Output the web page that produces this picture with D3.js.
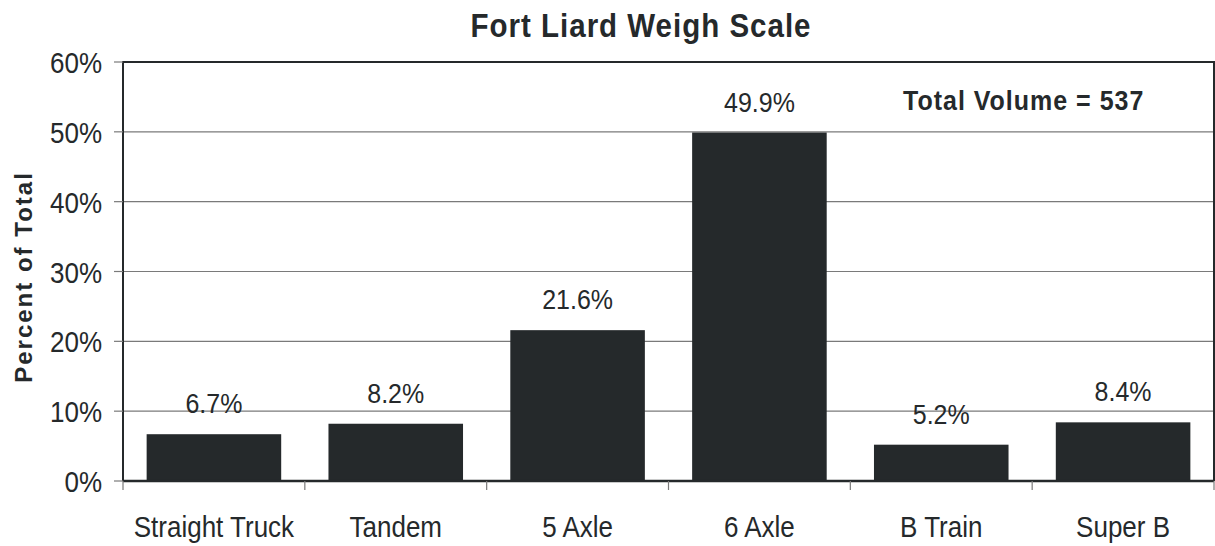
<!DOCTYPE html>
<html>
<head>
<meta charset="utf-8">
<script src="https://cdn.jsdelivr.net/npm/d3@7"></script>
<style>
  html, body { margin: 0; padding: 0; background: #fff; }
  text { font-family: "Liberation Sans", Arial, sans-serif; fill: #25292b; }
</style>
</head>
<body>
<script>
// chart data
const categories = ["Straight Truck", "Tandem", "5 Axle", "6 Axle", "B Train", "Super B"];
const percents = [6.7, 8.2, 21.6, 49.9, 5.2, 8.4];
const yTicks = [0, 10, 20, 30, 40, 50, 60];
const totalVolume = 537;

const WIDTH = 1215, HEIGHT = 546;
const plotLeft = 123, plotRight = 1214, plotTop = 62, plotBottom = 481;
const STRETCH = 1.1; // the original text is drawn slightly taller than wide

const svg = d3.select("body").append("svg")
    .attr("width", WIDTH)
    .attr("height", HEIGHT);

// put text at (x, y) with a small vertical stretch
const place = (xf, yf) => function (d, i) {
    const xx = typeof xf === "function" ? xf(d, i) : xf;
    const yy = typeof yf === "function" ? yf(d, i) : yf;
    return `translate(${xx},${yy}) scale(1,${STRETCH})`;
};

const x = d3.scaleBand()
    .domain(categories)
    .range([plotLeft, plotRight])
    .paddingInner(0.26)
    .paddingOuter(0.13);

const y = d3.scaleLinear()
    .domain([0, 60])
    .range([plotBottom, plotTop]);

// gridlines
svg.append("g")
    .selectAll("line")
    .data(yTicks.filter(d => d > 0 && d < 60))
    .enter().append("line")
    .attr("x1", plotLeft).attr("x2", plotRight)
    .attr("y1", d => y(d)).attr("y2", d => y(d))
    .attr("stroke", "#7a7a7a")
    .attr("stroke-width", 1.2);

// plot frame (top, left, right)
svg.append("path")
    .attr("d", `M${plotLeft},${plotBottom} V${plotTop} H${plotRight} V${plotBottom}`)
    .attr("fill", "none")
    .attr("stroke", "#25292b")
    .attr("stroke-width", 2);

// y tick marks + labels
const yAxis = svg.append("g");
yAxis.selectAll("line")
    .data(yTicks)
    .enter().append("line")
    .attr("x1", plotLeft - 9).attr("x2", plotLeft)
    .attr("y1", d => y(d)).attr("y2", d => y(d))
    .attr("stroke", "#7a7a7a")
    .attr("stroke-width", 1.2);
yAxis.selectAll("text")
    .data(yTicks)
    .enter().append("text")
    .attr("transform", place(102, d => y(d) + 11))
    .attr("text-anchor", "end")
    .attr("font-size", 26)
    .text(d => d + "%");

// bars
svg.append("g")
    .selectAll("rect")
    .data(percents)
    .enter().append("rect")
    .attr("x", (d, i) => x(categories[i]))
    .attr("y", d => y(d))
    .attr("width", x.bandwidth())
    .attr("height", d => plotBottom - y(d))
    .attr("fill", "#25292b");

// value labels
svg.append("g")
    .selectAll("text")
    .data(percents)
    .enter().append("text")
    .attr("transform", place((d, i) => x(categories[i]) + x.bandwidth() / 2, d => y(d) - 21))
    .attr("text-anchor", "middle")
    .attr("font-size", 25)
    .text(d => d.toFixed(1) + "%");

// x axis baseline and tick marks at category boundaries
svg.append("line")
    .attr("x1", plotLeft).attr("x2", plotRight)
    .attr("y1", plotBottom).attr("y2", plotBottom)
    .attr("stroke", "#25292b")
    .attr("stroke-width", 2.5);

const bounds = d3.range(categories.length + 1)
    .map(i => plotLeft + i * (plotRight - plotLeft) / categories.length);
svg.append("g")
    .selectAll("line")
    .data(bounds)
    .enter().append("line")
    .attr("x1", d => d).attr("x2", d => d)
    .attr("y1", plotBottom).attr("y2", plotBottom + 9)
    .attr("stroke", "#7a7a7a")
    .attr("stroke-width", 1.2);

// category labels
svg.append("g")
    .selectAll("text")
    .data(categories)
    .enter().append("text")
    .attr("transform", place(d => x(d) + x.bandwidth() / 2, 537))
    .attr("text-anchor", "middle")
    .attr("font-size", 26)
    .text(d => d);

// title
svg.append("text")
    .attr("transform", place(641, 37))
    .attr("text-anchor", "middle")
    .attr("font-size", 29.5)
    .attr("font-weight", "bold")
    .attr("letter-spacing", 1)
    .text("Fort Liard Weigh Scale");

// y axis title
svg.append("text")
    .attr("transform", `translate(32, 277) rotate(-90)`)
    .attr("text-anchor", "middle")
    .attr("font-size", 24)
    .attr("font-weight", "bold")
    .attr("letter-spacing", 2)
    .text("Percent of Total");

// annotation
svg.append("text")
    .attr("transform", place(903, 110))
    .attr("text-anchor", "start")
    .attr("font-size", 25)
    .attr("font-weight", "bold")
    .attr("letter-spacing", 1)
    .text("Total Volume = " + totalVolume);
</script>
</body>
</html>
